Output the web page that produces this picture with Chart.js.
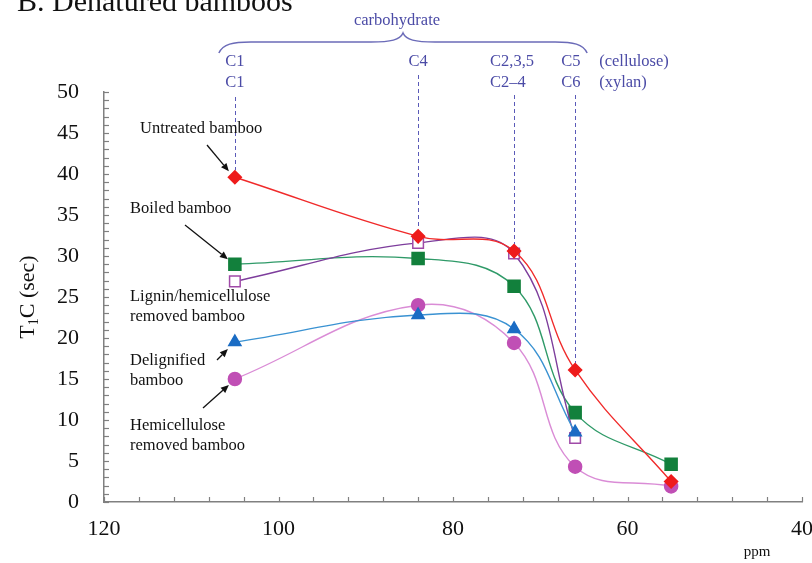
<!DOCTYPE html>
<html>
<head>
<meta charset="utf-8">
<script src="https://cdn.jsdelivr.net/npm/chart.js@4.4.1/dist/chart.umd.min.js"></script>
<style>
  html, body { margin: 0; padding: 0; background: #fff; }
  #wrap { width: 812px; height: 563px; position: relative; }
</style>
</head>
<body>
<div id="wrap"><canvas id="c" width="812" height="563"></canvas></div>
<script>
// Chemical shifts (ppm) of the carbon signals
const shifts = [105, 84, 73, 66, 55];

// T1C relaxation times (sec) per sample
const untreated      = [39.6, 32.4, 30.6, 16.1, 2.5];
const boiled         = [29.0, 29.7, 26.3, 10.9, 4.6];
const ligHemiRemoved = [26.9, 31.6, 30.3, 7.8];
const delignified    = [19.5, 22.8, 21.1, 8.5];
const hemiRemoved    = [15.0, 24.0, 19.4, 4.3, 1.9];

// Axis ranges
const xRange = [40, 120];
const yRange = [0, 50];

// Carbon assignments shown above the plot
const cellRow  = ['C1', 'C4', 'C2,3,5', 'C5'];
const xylanRow = ['C1', '',   'C2\u20134', 'C6'];

const SERIF = '"Liberation Serif", "DejaVu Serif", serif';
const ANNO = '#4b4ba6';

function pts(vals) {
  return vals.map((v, i) => ({ x: shifts[i], y: v }));
}

function ds(label, vals, o) {
  return Object.assign({
    label, data: pts(vals), showLine: true, tension: 0.4,
    borderWidth: 1.4, pointBorderWidth: 1.5, fill: false
  }, o);
}

const datasets = [
  ds('Untreated bamboo', untreated, {
    borderColor: '#f02a2a', pointStyle: 'rectRot', pointRadius: 6.5,
    pointBackgroundColor: '#ee1b1b', pointBorderColor: '#ee1b1b'
  }),
  ds('Delignified bamboo', delignified, {
    borderColor: '#3a92d2', pointStyle: 'triangle', pointRadius: 7,
    pointBackgroundColor: '#1a6cc4', pointBorderColor: '#1a6cc4'
  }),
  ds('Lignin/hemicellulose removed bamboo', ligHemiRemoved, {
    borderColor: '#7d3d9c', pointStyle: 'rect', pointRadius: 7.5,
    pointBackgroundColor: '#ffffff', pointBorderColor: '#a04aa8'
  }),
  ds('Boiled bamboo', boiled, {
    borderColor: '#2f9a68', pointStyle: 'rect', pointRadius: 8.5,
    pointBackgroundColor: '#12803c', pointBorderColor: '#12803c'
  }),
  ds('Hemicellulose removed bamboo', hemiRemoved, {
    borderColor: '#da8cd6', pointStyle: 'circle', pointRadius: 6.5,
    pointBackgroundColor: '#c04fb5', pointBorderColor: '#c04fb5'
  })
];

function arrow(ctx, x1, y1, x2, y2) {
  const a = Math.atan2(y2 - y1, x2 - x1);
  const L = 8, W = 3.5;
  ctx.save();
  ctx.strokeStyle = '#111'; ctx.fillStyle = '#111'; ctx.lineWidth = 1.3;
  ctx.beginPath();
  ctx.moveTo(x1, y1);
  ctx.lineTo(x2 - L * Math.cos(a), y2 - L * Math.sin(a));
  ctx.stroke();
  ctx.beginPath();
  ctx.moveTo(x2, y2);
  ctx.lineTo(x2 - L * Math.cos(a) + W * Math.sin(a), y2 - L * Math.sin(a) - W * Math.cos(a));
  ctx.lineTo(x2 - L * Math.cos(a) - W * Math.sin(a), y2 - L * Math.sin(a) + W * Math.cos(a));
  ctx.closePath();
  ctx.fill();
  ctx.restore();
}

const decor = {
  id: 'decor',
  beforeDatasetsDraw(chart) {
    const ctx = chart.ctx, xs = chart.scales.x, ys = chart.scales.y;
    const tops = [untreated, boiled, ligHemiRemoved, delignified, hemiRemoved];
    // dashed guides from the assignment labels down to the topmost point
    const starts = [97, 75, 95, 95];
    ctx.save();
    ctx.strokeStyle = '#5a5ab8'; ctx.lineWidth = 1; ctx.setLineDash([4, 3]);
    for (let i = 0; i < 4; i++) {
      const top = Math.max(...tops.map(s => (s[i] == null ? -1 : s[i])));
      const x = Math.round(xs.getPixelForValue(shifts[i])) + 0.5;
      ctx.beginPath();
      ctx.moveTo(x, starts[i]);
      ctx.lineTo(x, ys.getPixelForValue(top) - 7);
      ctx.stroke();
    }
    ctx.restore();

    // inward tick marks
    ctx.save();
    ctx.strokeStyle = '#808080'; ctx.lineWidth = 1.2;
    const b = ys.getPixelForValue(0), l = xs.getPixelForValue(120);
    for (let v = xRange[0]; v <= xRange[1]; v += 4) {
      const x = Math.round(xs.getPixelForValue(v)) + 0.5;
      ctx.beginPath(); ctx.moveTo(x, b); ctx.lineTo(x, b - 5); ctx.stroke();
    }
    for (let v = yRange[0]; v <= yRange[1]; v += 1) {
      const y = Math.round(ys.getPixelForValue(v)) + 0.5;
      ctx.beginPath(); ctx.moveTo(l, y); ctx.lineTo(l + 5, y); ctx.stroke();
    }
    ctx.restore();
  },
  afterDraw(chart) {
    const ctx = chart.ctx, xs = chart.scales.x, ys = chart.scales.y;
    const X = v => xs.getPixelForValue(v), Y = v => ys.getPixelForValue(v);
    ctx.save();

    // panel heading
    ctx.fillStyle = '#111';
    ctx.font = '30px ' + SERIF;
    ctx.textAlign = 'left'; ctx.textBaseline = 'alphabetic';
    ctx.fillText('B. Denatured bamboos', 17, 11);

    // y-axis title with subscript
    ctx.save();
    ctx.translate(34, 297);
    ctx.rotate(-Math.PI / 2);
    const big = '22px ' + SERIF, small = '14px ' + SERIF;
    ctx.font = big; const wT = ctx.measureText('T').width;
    ctx.font = small; const w1 = ctx.measureText('1').width;
    ctx.font = big; const wR = ctx.measureText('C (sec)').width;
    let x0 = -(wT + w1 + wR) / 2;
    ctx.font = big; ctx.fillText('T', x0, 0); x0 += wT;
    ctx.font = small; ctx.fillText('1', x0, 4); x0 += w1;
    ctx.font = big; ctx.fillText('C (sec)', x0, 0);
    ctx.restore();

    // x unit
    ctx.font = '15px ' + SERIF;
    ctx.textAlign = 'center';
    ctx.fillText('ppm', 757, 556);

    // sample labels
    ctx.font = '16.5px ' + SERIF;
    ctx.textAlign = 'left'; ctx.textBaseline = 'middle';
    ctx.fillText('Untreated bamboo', 140, 129);
    ctx.fillText('Boiled bamboo', 130, 209);
    ctx.fillText('Lignin/hemicellulose', 130, 297);
    ctx.fillText('removed bamboo', 130, 317);
    ctx.fillText('Delignified', 130, 361);
    ctx.fillText('bamboo', 130, 381);
    ctx.fillText('Hemicellulose', 130, 426);
    ctx.fillText('removed bamboo', 130, 446);

    // arrows to the C1 points
    const px = X(shifts[0]);
    arrow(ctx, 207, 145, px - 6, Y(untreated[0]) - 6);
    arrow(ctx, 185, 225, px - 7, Y(boiled[0]) - 5);
    arrow(ctx, 217, 360, px - 7, Y(delignified[0]) + 7);
    arrow(ctx, 203, 408, px - 6, Y(hemiRemoved[0]) + 6);

    // carbon assignments
    ctx.fillStyle = ANNO;
    ctx.font = '16.5px ' + SERIF;
    ctx.textBaseline = 'middle';
    const r1 = 62, r2 = 83;
    ctx.textAlign = 'center';
    ctx.fillText(cellRow[0], X(shifts[0]), r1);
    ctx.fillText(xylanRow[0], X(shifts[0]), r2);
    ctx.fillText(cellRow[1], X(shifts[1]), r1);
    ctx.textAlign = 'left';
    ctx.fillText(cellRow[2], X(shifts[2]) - 24, r1);
    ctx.fillText(xylanRow[2], X(shifts[2]) - 24, r2);
    ctx.fillText(cellRow[3], X(shifts[3]) - 14, r1);
    ctx.fillText(xylanRow[3], X(shifts[3]) - 14, r2);
    ctx.fillText('(cellulose)', X(shifts[3]) + 24, r1);
    ctx.fillText('(xylan)', X(shifts[3]) + 24, r2);

    // brace grouping the carbohydrate signals
    const L = X(shifts[0]) - 16, R = X(shifts[3]) + 12, M = (L + R) / 2;
    ctx.strokeStyle = '#6b6bb8'; ctx.lineWidth = 1.5;
    ctx.beginPath();
    ctx.moveTo(L, 53);
    ctx.bezierCurveTo(L + 4, 44, L + 14, 42, L + 32, 42);
    ctx.lineTo(M - 32, 42);
    ctx.bezierCurveTo(M - 12, 42, M - 3, 40, M, 33);
    ctx.bezierCurveTo(M + 3, 40, M + 12, 42, M + 32, 42);
    ctx.lineTo(R - 32, 42);
    ctx.bezierCurveTo(R - 14, 42, R - 4, 44, R, 53);
    ctx.stroke();
    ctx.textAlign = 'center';
    ctx.fillText('carbohydrate', M - 6, 21);

    ctx.restore();
  }
};

new Chart(document.getElementById('c'), {
  type: 'scatter',
  data: { datasets },
  options: {
    responsive: false,
    animation: false,
    devicePixelRatio: 1,
    layout: { padding: { top: 92, right: 10, left: 0, bottom: 0 } },
    plugins: { legend: { display: false }, tooltip: { enabled: false }, title: { display: false } },
    scales: {
      x: {
        type: 'linear', reverse: true, min: xRange[0], max: xRange[1],
        grid: { display: false, drawTicks: false },
        border: { display: true, color: '#808080', width: 1.5 },
        ticks: { stepSize: 20, padding: 14, color: '#111', font: { family: SERIF, size: 22 } },
        afterFit: s => { s.height = 61; s.paddingLeft = 0; s.paddingRight = 0; }
      },
      y: {
        min: yRange[0], max: yRange[1],
        grid: { display: false, drawTicks: false },
        border: { display: true, color: '#808080', width: 1.5 },
        ticks: { stepSize: 5, padding: 25, color: '#111', font: { family: SERIF, size: 22 } },
        afterFit: s => { s.width = 104; s.paddingTop = 0; s.paddingBottom = 0; }
      }
    }
  },
  plugins: [decor]
});
</script>
</body>
</html>
